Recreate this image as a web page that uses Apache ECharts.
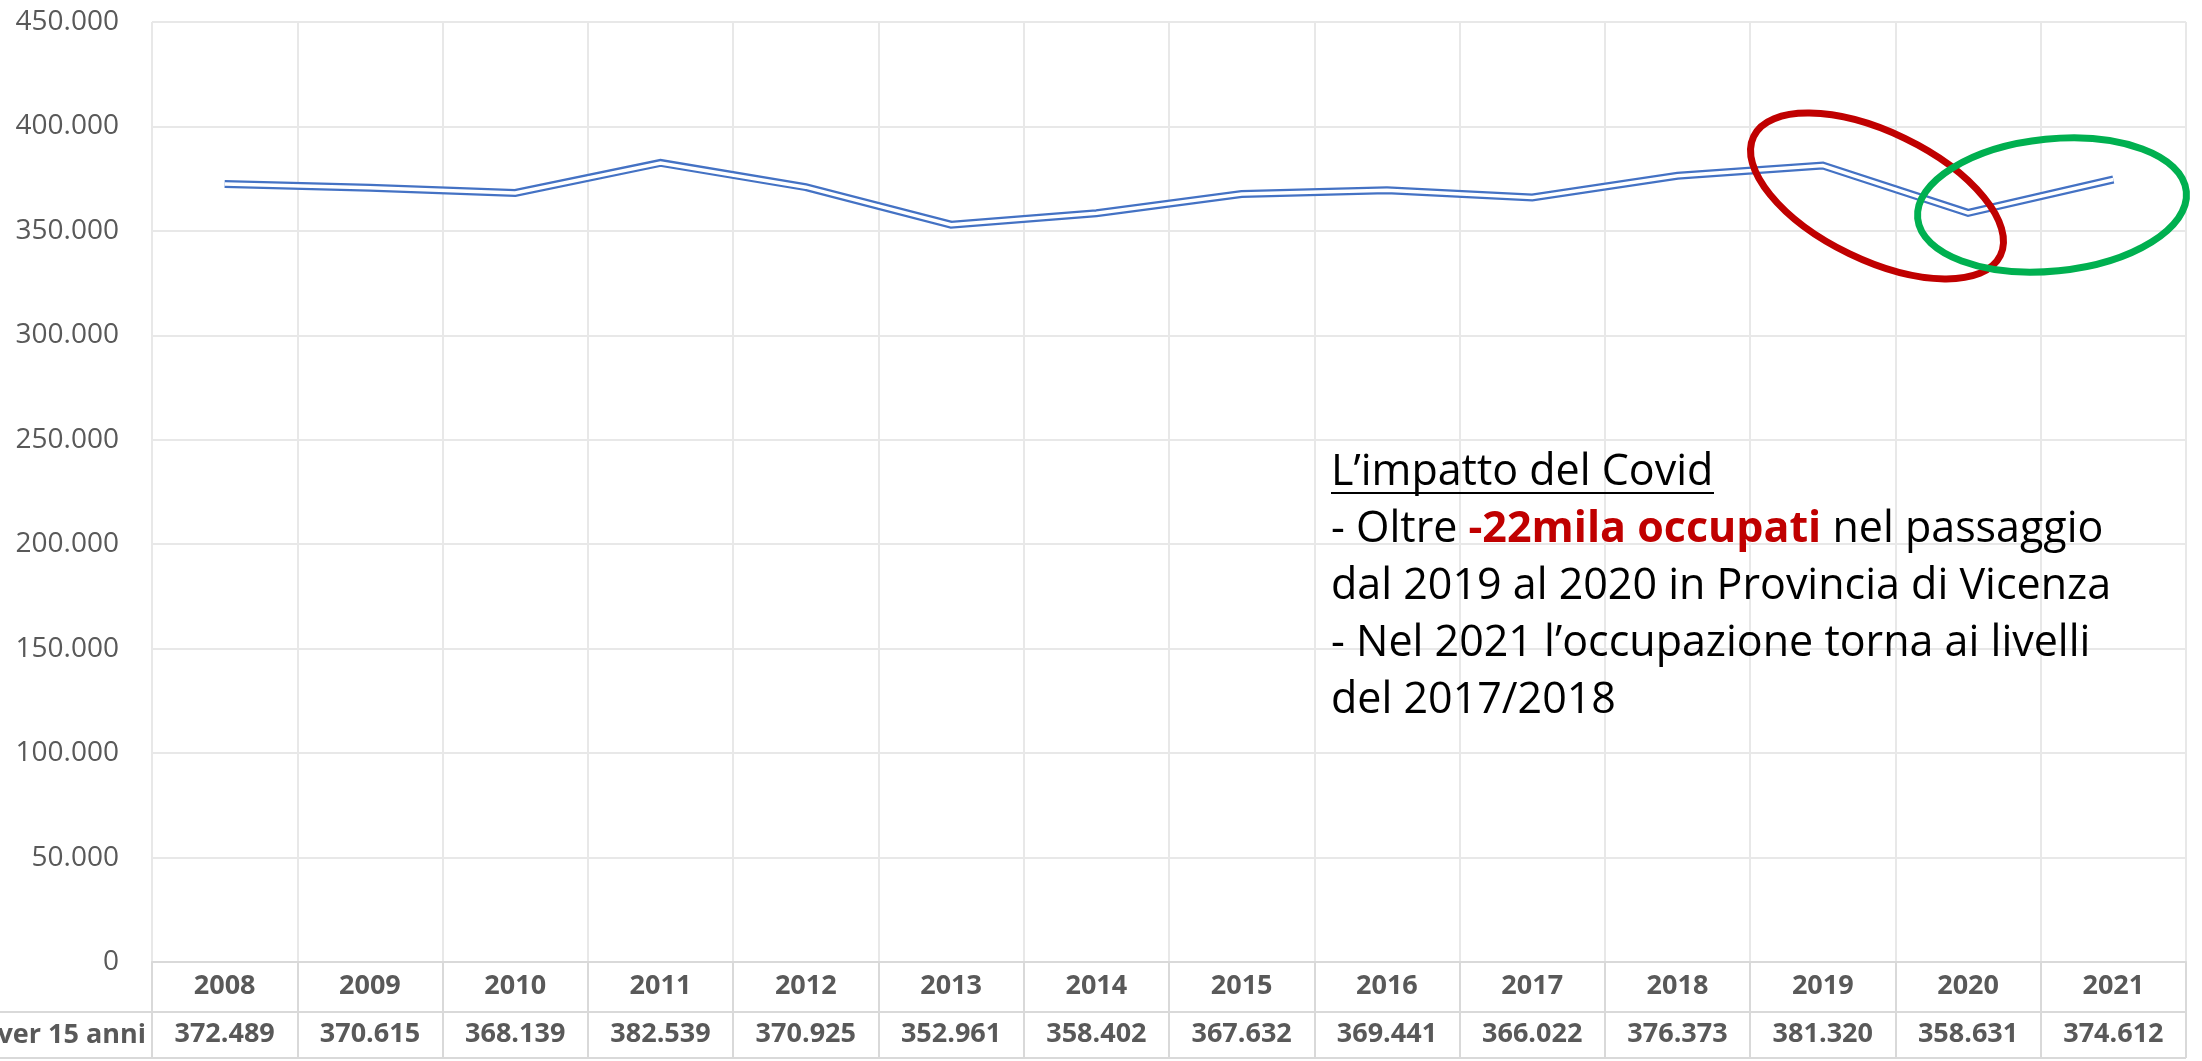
<!DOCTYPE html>
<html>
<head>
<meta charset="utf-8">
<title>Occupati over 15 anni - Vicenza</title>
<script src="https://cdn.jsdelivr.net/npm/echarts@6/dist/echarts.min.js"></script>
<style>
html,body{margin:0;padding:0;background:#fff;}
#chart_1{width:2202px;height:1061px;}
</style>
</head>
<body>
<div id="chart_1"></div>
<script>
//dati
var years = ['2008','2009','2010','2011','2012','2013','2014','2015','2016','2017','2018','2019','2020','2021']
var occupati = [372489,370615,368139,382539,370925,352961,358402,367632,369441,366022,376373,381320,358631,374612]
var rowLabel = 'ver 15 anni'
var noteTitle = 'L\u2019impatto del Covid'
var noteLines = [
    ['- Oltre ', '-22mila occupati', ' nel passaggio'],
    ['dal 2019 al 2020 in Provincia di Vicenza'],
    ['- Nel 2021 l\u2019occupazione torna ai livelli'],
    ['del 2017/2018']
]

var grigio = '#595959'
var bordo = '#D9D9D9'
var font = 'Open Sans'

function fmt(v){
    if(v === 0) return '0'
    var k = Math.floor(v / 1000), r = String(v % 1000)
    while(r.length < 3) r = '0' + r
    return k + '.' + r
}

function noteText(){
    var t = '{n|' + noteTitle + '}'
    for(var i = 0;i<noteLines.length;i++){
        var l = noteLines[i]
        t += '\n{n|' + l[0] + '}'
        if(l.length > 1) t += '{r|' + l[1] + '}{n|' + l[2] + '}'
    }
    return t
}

var char1 = echarts.init(document.getElementById('chart_1'))
var option1 = {
    animation: false,
    grid: {
        top: 22,
        left: 152,
        right: 16,
        bottom: 99
    },
    xAxis: [
        {
            type: 'category',
            data: years,
            boundaryGap: true,
            position: 'bottom',
            axisLine: { show: true, lineStyle: { color: bordo, width: 2 } },
            axisTick: { show: true, length: 96, lineStyle: { color: bordo, width: 2 } },
            axisLabel: {
                margin: 11,
                fontFamily: font,
                fontWeight: 'bold',
                fontSize: 27,
                color: grigio
            },
            splitLine: { show: true, lineStyle: { color: '#E8E8E8', width: 2 } }
        },
        {
            type: 'category',
            data: years,
            boundaryGap: true,
            position: 'bottom',
            offset: 50,
            axisLine: { show: false },
            axisTick: { show: false },
            axisLabel: {
                margin: 9,
                fontFamily: font,
                fontWeight: 'bold',
                fontSize: 27,
                color: grigio,
                formatter: function(v, i){ return fmt(occupati[i]) }
            },
            splitLine: { show: false }
        }
    ],
    yAxis: {
        type: 'value',
        min: 0,
        max: 450000,
        interval: 50000,
        axisLine: { show: false },
        axisTick: { show: false },
        axisLabel: {
            margin: 33,
            fontFamily: font,
            fontSize: 28,
            color: grigio,
            formatter: fmt
        },
        splitLine: { lineStyle: { color: '#E8E8E8', width: 2 } }
    },
    series: [
        //linea doppia: blu spessa + bianca sopra
        {
            name: 'Occupati over 15 anni',
            type: 'line',
            data: occupati,
            symbol: 'none',
            lineStyle: { color: '#4472C4', width: 8, join: 'miter' },
            z: 3
        },
        {
            name: 'gap',
            type: 'line',
            data: occupati,
            symbol: 'none',
            lineStyle: { color: '#FFFFFF', width: 3.5, join: 'miter' },
            z: 4
        }
    ],
    graphic: [
        { type: 'line', shape: { x1: 0, y1: 1012, x2: 2186, y2: 1012 }, style: { stroke: bordo, lineWidth: 2 } },
        { type: 'line', shape: { x1: 0, y1: 1058, x2: 2186, y2: 1058 }, style: { stroke: bordo, lineWidth: 2 } },
        {
            type: 'text', x: 146, y: 1035,
            style: { text: rowLabel, fontFamily: font, fontWeight: 'bold', fontSize: 27, fill: grigio, align: 'right', verticalAlign: 'middle' }
        },
        {
            type: 'text', x: 1331, y: 444, z: 50,
            style: {
                text: noteText(),
                align: 'left',
                verticalAlign: 'top',
                rich: {
                    n: { fontFamily: font, fontSize: 43, lineHeight: 57, fill: '#000' },
                    r: { fontFamily: font, fontSize: 43, lineHeight: 57, fill: '#C00000', fontWeight: 'bold' }
                }
            }
        },
        { type: 'line', z: 50, shape: { x1: 1331, y1: 493, x2: 1714, y2: 493 }, style: { stroke: '#000', lineWidth: 2 } },
        {
            type: 'ellipse', x: 1877, y: 196, rotation: -0.45, z: 60,
            shape: { cx: 0, cy: 0, rx: 137, ry: 64 },
            style: { fill: 'none', stroke: '#C00000', lineWidth: 7 }
        },
        {
            type: 'ellipse', x: 2052, y: 205, rotation: 0.1, z: 60,
            shape: { cx: 0, cy: 0, rx: 135, ry: 66 },
            style: { fill: 'none', stroke: '#00B050', lineWidth: 7 }
        }
    ]
}
char1.setOption(option1)
</script>
</body>
</html>
